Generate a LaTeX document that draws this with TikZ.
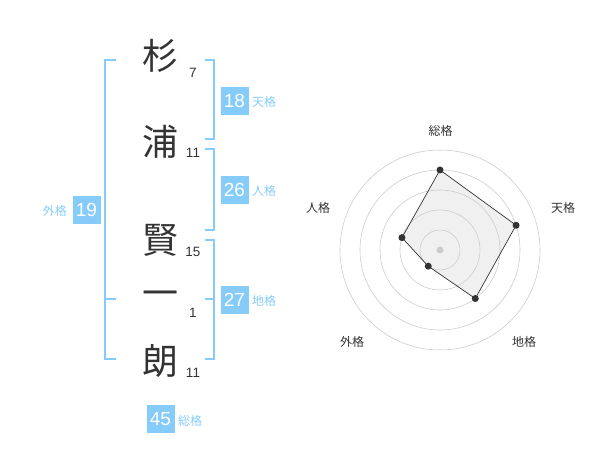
\documentclass[tikz,border=0pt]{standalone}
\usepackage{fontspec}
\setmainfont{Liberation Sans}
\newfontfamily\jp{Noto Sans CJK JP}
\usetikzlibrary{calc}
\definecolor{sky}{RGB}{134,204,250}
\definecolor{ink}{RGB}{51,51,51}
\definecolor{ring}{RGB}{204,204,204}
\tikzset{
  kanji/.style={font=\jp\fontsize{36}{36}\selectfont, text=ink, inner sep=0pt},
  strokes/.style={font=\fontsize{13.5}{14}\selectfont, text=ink, inner sep=0pt},
  numbox/.style={fill=sky, text=white, minimum width=28pt, minimum height=28.5pt, inner sep=0pt, font=\fontsize{19}{19}\selectfont},
  kaku/.style={font=\jp\fontsize{12}{12}\selectfont, text=sky, inner sep=0pt},
  brk/.style={draw=sky, line width=1.6pt},
  axislbl/.style={font=\jp\fontsize{12}{12}\selectfont, text=ink, inner sep=0pt},
  dotpt/.style={circle, fill=ink, inner sep=0pt, minimum size=7pt},
}
\begin{document}
\begin{tikzpicture}[x=1pt,y=-1pt]
\useasboundingbox (0,0) rectangle (600,470);
% kanji
\node[kanji] (k1) at (160,56) {杉};
\node[kanji] (k2) at (160,142) {浦};
\node[kanji] (k3) at (160,240) {賢};
\node[kanji] (k4) at (160,299) {一};
\node[kanji] (k5) at (160,361) {朗};
% strokes
\node[strokes] (s1) at (193,73) {7};
\node[strokes] (s2) at (193,153) {11};
\node[strokes] (s3) at (193,252) {15};
\node[strokes] (s4) at (193,313) {1};
\node[strokes] (s5) at (193,373) {11};
% left bracket
\draw[brk] (116,60) -- (105,60) -- (105,359) -- (116,359);
\draw[brk] (105,299) -- (116,299);
% right brackets
\draw[brk] (205,60) -- (214,60) -- (214,139) -- (205,139);
\draw[brk] (205,149) -- (214,149) -- (214,230) -- (205,230);
\draw[brk] (205,240) -- (214,240) -- (214,359) -- (205,359);
\draw[brk] (205,299) -- (214,299);
% boxes
\node[numbox] (b18) at (234.5,101) {18};
\node[kaku, anchor=west] (l18) at (252,102) {天格};
\node[numbox] (b26) at (234.5,190) {26};
\node[kaku, anchor=west] (l26) at (252,191) {人格};
\node[numbox] (b27) at (234.5,300) {27};
\node[kaku, anchor=west] (l27) at (252,301) {地格};
\node[numbox] (b19) at (86.5,210) {19};
\node[kaku, anchor=east] (l19) at (67,211) {外格};
\node[numbox] (b45) at (160.5,419) {45};
\node[kaku, anchor=west] (l45) at (178,421) {総格};
% radar
\coordinate (c) at (440,250);
\coordinate (p1) at ($(c)+(0,-80)$);
\coordinate (p2) at ($(c)+({80*cos(18)},{-80*sin(18)})$);
\coordinate (p3) at ($(c)+({60*cos(54)},{60*sin(54)})$);
\coordinate (p4) at ($(c)+({-20*cos(54)},{20*sin(54)})$);
\coordinate (p5) at ($(c)+({-40*cos(18)},{-40*sin(18)})$);
\fill[black!6] (p1) -- (p2) -- (p3) -- (p4) -- (p5) -- cycle;
\foreach \r in {20,40,60,80,100} \draw[ring, line width=0.6pt] (c) circle (\r);
\fill[ring] (c) circle (3.5);
\draw[ink, line width=0.7pt] (p1) -- (p2) -- (p3) -- (p4) -- (p5) -- cycle;
\foreach \p in {p1,p2,p3,p4,p5} \node[dotpt] at (\p) {};
\node[axislbl] (a1) at (440.5,131) {総格};
\node[axislbl] (a2) at (563,208) {天格};
\node[axislbl] (a3) at (524,342) {地格};
\node[axislbl] (a4) at (352,342) {外格};
\node[axislbl] (a5) at (318,208) {人格};
\end{tikzpicture}
\end{document}
